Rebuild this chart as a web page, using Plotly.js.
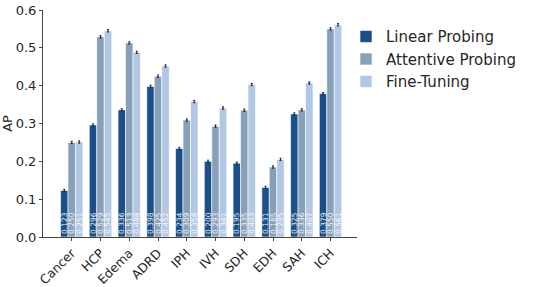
<!DOCTYPE html>
<html>
<head>
<script src="https://cdn.plot.ly/plotly-3.0.1.min.js"></script>
<style>html,body{margin:0;padding:0;background:#fff;}#chart{width:538px;height:287px;}</style>
</head>
<body>
<div id="chart"></div>
<script>
const categories = ["Cancer","HCP","Edema","ADRD","IPH","IVH","SDH","EDH","SAH","ICH"];
const linearProbing = [0.123,0.296,0.336,0.398,0.234,0.200,0.195,0.131,0.325,0.379];
const attentiveProbing = [0.250,0.529,0.513,0.425,0.309,0.293,0.335,0.185,0.336,0.550];
const fineTuning = [0.251,0.545,0.488,0.452,0.358,0.341,0.403,0.205,0.407,0.561];
const errLinear = [0.003,0.003,0.003,0.003,0.003,0.003,0.003,0.003,0.003,0.003];
const errAttentive = [0.003,0.003,0.003,0.003,0.003,0.003,0.003,0.003,0.003,0.003];
const errFine = [0.003,0.003,0.003,0.003,0.003,0.003,0.003,0.003,0.003,0.003];
const seriesNames = ["Linear Probing","Attentive Probing","Fine-Tuning"];
const colors = ["#1b4f8a","#87a0ba","#b2c7e4"];

const font = "DejaVu Sans, sans-serif";
function mk(name, vals, err, color){
  return {
    type:'bar', name:name, x:categories, y:vals,
    marker:{color:color, line:{color:'#ffffff', width:0.6}},
    error_y:{type:'data', array:err, visible:true, color:'#222', thickness:1, width:1},
    text: vals.map(v=>v.toFixed(3)),
    textposition:'inside', insidetextanchor:'start', textangle:-90,
    constraintext:'none',
    textfont:{family:font, size:7.5, color:'rgba(255,255,255,0.92)'},
    hoverinfo:'none'
  };
}
const data = [
  mk(seriesNames[0], linearProbing, errLinear, colors[0]),
  mk(seriesNames[1], attentiveProbing, errAttentive, colors[1]),
  mk(seriesNames[2], fineTuning, errFine, colors[2])
];
const layout = {
  width:538, height:287,
  margin:{l:43, r:181, t:10, b:50},
  paper_bgcolor:'#fff', plot_bgcolor:'#fff',
  barmode:'group', bargap:0.22, bargroupgap:0.0,
  font:{family:font, size:13, color:'#262626'},
  xaxis:{
    range:[-1,9.92], showgrid:false, zeroline:false,
    showline:true, linecolor:'#444', linewidth:1,
    ticks:'outside', ticklen:3, tickcolor:'#444',
    tickangle:-45, tickfont:{family:font, size:12.5, color:'#262626'}
  },
  yaxis:{
    range:[0,0.6], dtick:0.1, tickformat:'.1f', showgrid:false, zeroline:false,
    showline:true, linecolor:'#444', linewidth:1,
    ticks:'outside', ticklen:3, tickcolor:'#444',
    tickfont:{family:font, size:13, color:'#262626'},
    title:{text:'AP', font:{family:font, size:13, color:'#262626'}, standoff:4}
  },
  legend:{
    x:0.965, xanchor:'left', y:0.955, yanchor:'top',
    font:{family:font, size:15, color:'#262626'},
    tracegroupgap:6, itemwidth:30, bgcolor:'rgba(0,0,0,0)'
  },
  showlegend:true
};
Plotly.newPlot('chart', data, layout, {staticPlot:true, displayModeBar:false});
</script>
</body>
</html>
